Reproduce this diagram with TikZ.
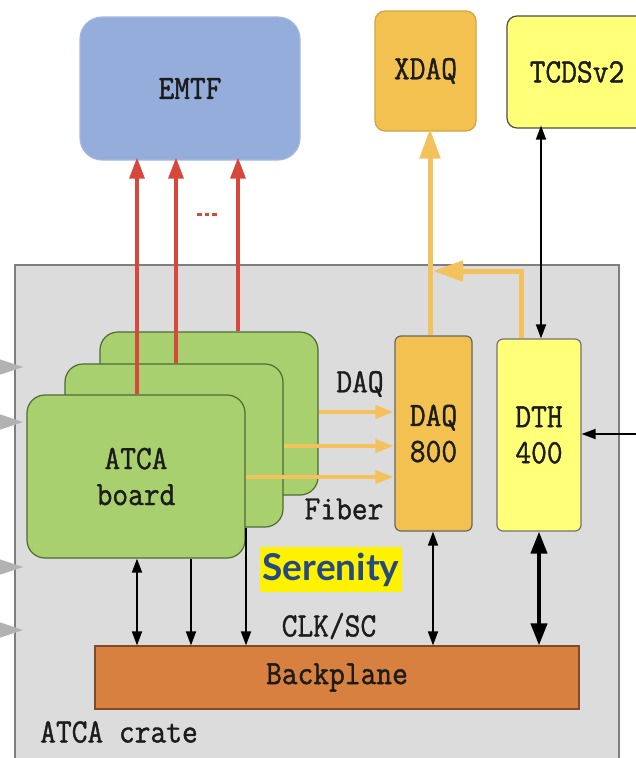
\documentclass[tikz,border=0pt]{standalone}
\usepackage{fontspec}
\usetikzlibrary{arrows.meta}
\newfontfamily\serenityfont{Lato}
\newfontfamily\monolabel{Latin Modern Mono}[FakeBold=1.2, FakeStretch=0.9]
\newcommand\boxlabel{\monolabel\fontsize{34}{36}\selectfont}

\definecolor{emtfblue}{HTML}{95ADDA}
\definecolor{xdaqorange}{HTML}{F2C150}
\definecolor{tcdsyellow}{HTML}{FFFF78}
\definecolor{cratefill}{HTML}{DCDCDC}
\definecolor{crateline}{HTML}{7F7F7F}
\definecolor{boardgreen}{HTML}{A9D06F}
\definecolor{boardline}{HTML}{4E6B32}
\definecolor{bpfill}{HTML}{D8803F}
\definecolor{bpline}{HTML}{7F4A25}
\definecolor{linkred}{HTML}{D8483A}
\definecolor{daqyellow}{HTML}{F3C25C}
\definecolor{serenityblue}{HTML}{264A7F}
\definecolor{inkgray}{HTML}{1C1C1C}

\tikzset{
  box/.style={draw, line width=1.2pt, inner sep=0pt, align=center,
    text=inkgray, font=\boxlabel},
  board/.style={box, fill=boardgreen, draw=boardline, rounded corners=18pt,
    minimum width=218pt, minimum height=163pt},
  label/.style={inner sep=0pt, text=inkgray, font=\boxlabel},
  redlink/.style={draw=linkred, line width=3.2pt,
    -{Triangle[length=21pt, width=15pt]}},
  daqlink/.style={draw=daqyellow, line width=3.4pt,
    -{Triangle[length=18pt, width=13pt]}},
  biglink/.style={draw=daqyellow, line width=5pt,
    -{Triangle[length=30pt, width=20pt]}},
  ctrl/.style={draw=black, line width=1.8pt,
    {Triangle[length=14pt, width=10pt]}-{Triangle[length=14pt, width=10pt]}},
  ctrlone/.style={draw=black, line width=1.8pt,
    -{Triangle[length=14pt, width=10pt]}},
  ctrlthick/.style={draw=black, line width=4pt,
    {Triangle[length=22pt, width=16pt]}-{Triangle[length=22pt, width=16pt]}},
  feed/.style={fill=gray!60},
}

\begin{document}
\begin{tikzpicture}[x=1pt, y=-1pt]
\useasboundingbox (0,0) rectangle (636,758);
\clip (0,0) rectangle (636,758);

% ATCA crate
\fill[cratefill, draw=crateline, line width=1.5pt] (15,265) rectangle (619,780);
\node[label, anchor=west] (cratelabel) at (40,732) {ATCA crate};

% external systems
\node[box, fill=emtfblue, draw=emtfblue!85!white, rounded corners=22pt,
  minimum width=220pt, minimum height=143pt] (emtf) at (190,88.5) {EMTF};
\node[box, fill=xdaqorange, draw=xdaqorange!85!black, rounded corners=10pt,
  minimum width=101pt, minimum height=120pt] (xdaq) at (425.5,71) {XDAQ};
\node[box, fill=tcdsyellow, draw=black!70, rounded corners=10pt,
  minimum width=143pt, minimum height=112pt] (tcds) at (578.5,72) {};
\node[label] (tcdstext) at (577,72) {TCDSv2};

% stacked ATCA boards
\node[board] (back) at (209,413.5) {};
\node[board] (middle) at (174,445.5) {};
\node[board] (front) at (136,476.5) {ATCA\\board};

% DAQ 800 and DTH 400
\node[box, fill=xdaqorange, draw=black!60, rounded corners=6pt,
  minimum width=77pt, minimum height=195pt] (daq) at (433.5,433.5) {DAQ\\800};
\node[box, fill=tcdsyellow, draw=black!55, rounded corners=6pt,
  minimum width=84pt, minimum height=192pt] (dth) at (539,435) {DTH\\400};

% backplane
\node[box, fill=bpfill, draw=bpline, minimum width=484pt,
  minimum height=63pt] (bp) at (337,677.5) {Backplane};

% labels
\node[label] (daqlabel) at (360,384) {DAQ};
\node[label] (fiberlabel) at (344,509) {Fiber};
\node[label] (clklabel) at (329,626) {CLK/SC};
\node[fill=yellow, inner sep=0pt, minimum width=142pt, minimum height=45pt,
  text=serenityblue, font=\serenityfont\bfseries\fontsize{37}{40}\selectfont]
  (serenity) at (331,569.5) {Serenity};

% reference positions for the connectors
\coordinate (r1) at (137,0);
\coordinate (r2) at (176,0);
\coordinate (r3) at (238,0);
\coordinate (f1) at (0,412);
\coordinate (f2) at (0,446);
\coordinate (f3) at (0,477);
\coordinate (up) at (430,0);
\coordinate (dthup) at (521,0);
\coordinate (merge) at (433,271);
\coordinate (tc) at (541,0);
\coordinate (ext) at (640,434);
\coordinate (b1) at (137,0);
\coordinate (b2) at (191,0);
\coordinate (b3) at (246,0);
\coordinate (b4) at (433,0);
\coordinate (b5) at (539,0);

% trigger links to EMTF
\draw[redlink, shorten >=-3pt] (front.north -| r1) -- (emtf.south -| r1);
\draw[redlink, shorten >=-3pt] (middle.north -| r2) -- (emtf.south -| r2);
\draw[redlink, shorten >=-3pt] (back.north -| r3) -- (emtf.south -| r3);
\draw[linkred, line width=3pt, dash pattern=on 4.5pt off 3pt]
  (197,214) coordinate (dotsa) -- (218,214) coordinate (dotsb);

% DAQ fibres
\draw[daqlink, shorten >=1pt] (back.east |- f1) -- (daq.west |- f1);
\draw[daqlink, shorten >=1pt] (middle.east |- f2) -- (daq.west |- f2);
\draw[daqlink, shorten >=1pt] (front.east |- f3) -- (daq.west |- f3);

% readout to XDAQ
\draw[biglink, shorten >=-3pt] (daq.north -| up) -- (xdaq.south -| up);
\draw[biglink] (dth.north -| dthup) |- (merge);

% clock and control
\draw[ctrl, shorten <=-3pt] (tcds.south -| tc) -- (dth.north -| tc);
\draw[ctrlone] (ext) -- (dth.east |- ext);
\draw[ctrl] (front.south -| b1) -- (bp.north -| b1);
\draw[ctrlone] (front.south -| b2) -- (bp.north -| b2);
\draw[ctrlone] (middle.south -| b3) -- (bp.north -| b3);
\draw[ctrl] (daq.south -| b4) -- (bp.north -| b4);
\draw[ctrlthick] (dth.south -| b5) -- (bp.north -| b5);

% inputs entering the crate from the left
\foreach \yy in {367,422,567,630}
  \fill[feed] (-4,\yy-9) -- (23,\yy) -- (-4,\yy+9) -- cycle;
\end{tikzpicture}
\end{document}
